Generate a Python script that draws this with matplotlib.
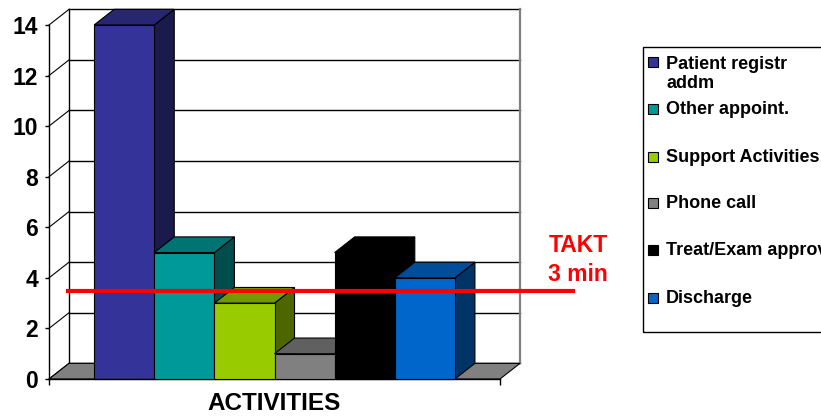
import matplotlib
matplotlib.use('Agg')
import matplotlib.pyplot as plt
from matplotlib.patches import Polygon, Rectangle

# data
activities = ['Patient registr\naddm', 'Other appoint.', 'Support Activities',
              'Phone call', 'Treat/Exam approval', 'Discharge']
minutes = [14, 5, 3, 1, 5, 4]
takt = 3.48          # red TAKT line, on the front scale
yticks = [0, 2, 4, 6, 8, 10, 12, 14]

front_colors = ['#333399', '#009999', '#99CC00', '#808080', '#000000', '#0066CC']
top_colors = ['#262673', '#007373', '#739900', '#606060', '#000000', '#004D99']
side_colors = ['#1A1A4D', '#004D4D', '#4D6600', '#404040', '#000000', '#003366']

plt.rcParams['font.family'] = ['Liberation Sans', 'DejaVu Sans']
plt.rcParams['font.weight'] = 'bold'

W, H = 821, 416
fig = plt.figure(figsize=(W / 100, H / 100), dpi=100)
ax = fig.add_axes([49 / W, 37 / H, 451 / W, 354 / H])
n_slots = 7.5
ax.set_xlim(0, n_slots)
ax.set_ylim(0, 14)

# fake 3d depth offset (data units)
dx, dy = 0.333, 0.62

# back wall + side wall grid
for y in yticks:
    ax.plot([dx, n_slots + dx], [y + dy, y + dy], color='black', lw=1, clip_on=False, zorder=1)
    ax.plot([0, dx], [y, y + dy], color='black', lw=0.8, clip_on=False, zorder=1)
ax.plot([dx, dx], [dy, 14 + dy], color='black', lw=1, clip_on=False, zorder=1)
ax.plot([n_slots + dx, n_slots + dx], [dy, 14 + dy], color='#808080', lw=1.6, clip_on=False, zorder=1)

# floor
floor = Polygon([(0, 0), (n_slots, 0), (n_slots + dx, dy), (dx, dy)],
                closed=True, fc='#808080', ec='black', lw=0.8, clip_on=False, zorder=1.5)
ax.add_patch(floor)

# bars, drawn left to right so the next one covers the previous side face
for i, v in enumerate(minutes):
    x0 = 0.75 + i
    ec = 'black'
    side = Polygon([(x0 + 1, 0), (x0 + 1 + dx, dy), (x0 + 1 + dx, v + dy), (x0 + 1, v)],
                   closed=True, fc=side_colors[i], ec=ec, lw=0.8, clip_on=False, zorder=2 + i)
    top = Polygon([(x0, v), (x0 + dx, v + dy), (x0 + 1 + dx, v + dy), (x0 + 1, v)],
                  closed=True, fc=top_colors[i], ec=ec, lw=0.8, clip_on=False, zorder=2 + i)
    ax.add_patch(side)
    ax.add_patch(top)
    ax.bar(x0 + 0.5, v, width=1, color=front_colors[i], edgecolor=ec, lw=0.8,
           clip_on=False, zorder=2.5 + i)

# TAKT line
ax.plot([0.316, 8.71], [takt, takt], color='#FF0000', lw=3, clip_on=False, zorder=20)
fig.text(578 / W, 1 - 260 / H, 'TAKT\n3 min', color='#FF0000', fontsize=16.5,
         fontweight='bold', ha='center', va='center', linespacing=1.3)

# axes
for s in ['top', 'right']:
    ax.spines[s].set_visible(False)
ax.spines['left'].set_linewidth(1)
ax.spines['bottom'].set_linewidth(1)
ax.spines['left'].set_zorder(10)
ax.set_yticks(yticks)
ax.set_yticklabels([str(t) for t in yticks])
ax.tick_params(axis='y', length=3, width=1, pad=5, labelsize=16.5)
ax.set_xticks([0, n_slots])
ax.set_xticklabels(['', ''])
ax.tick_params(axis='x', length=4.5, width=1)
ax.set_xlabel('ACTIVITIES', fontsize=17.5, fontweight='bold', labelpad=1)

# legend (box runs off the right edge, like the source)
fig.add_artist(Rectangle((643 / W, 1 - 332 / H), 300 / W, 285 / H, transform=fig.transFigure,
                         fill=False, ec='black', lw=1))
legend_y = [62, 109, 157, 203, 250, 298]
leg_size = 13
pitch = 21
for lab, c, yc in zip(activities, front_colors, legend_y):
    fig.add_artist(Rectangle((648 / W, 1 - (yc + 5) / H), 10 / W, 10 / H,
                             transform=fig.transFigure, fc=c, ec='black', lw=0.8))
    extra = lab.count('\n') * pitch
    fig.text(666 / W, 1 - (yc + 5 + extra) / H, lab, fontsize=leg_size, fontweight='bold',
             ha='left', va='baseline', linespacing=pitch / (leg_size * 100 / 72))

fig.savefig('out.png', dpi=100)
